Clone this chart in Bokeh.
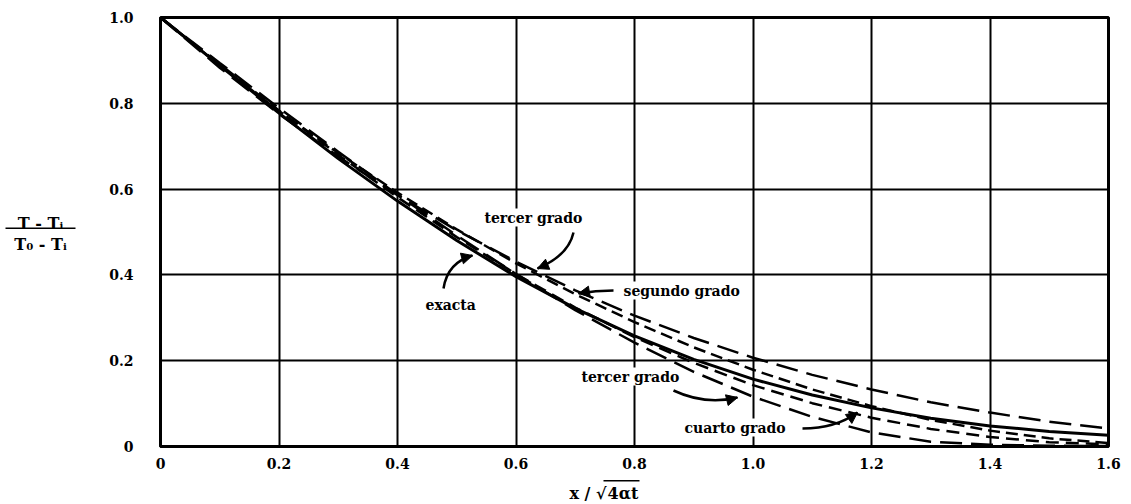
from bokeh.plotting import figure
from bokeh.layouts import row, column
from bokeh.models import Label, Arrow, NormalHead, Range1d, FixedTicker
from bokeh.core.properties import value
from bokeh.embed import file_html
from bokeh.resources import INLINE

# ---- data ----
eta = [0.0, 0.1, 0.2, 0.3, 0.4, 0.5, 0.6, 0.7, 0.8, 0.9, 1.0, 1.1, 1.2, 1.3, 1.4, 1.5, 1.6]
exacta = [1.000, 0.888, 0.777, 0.671, 0.572, 0.480, 0.396, 0.322, 0.258, 0.203, 0.157, 0.120, 0.090, 0.066, 0.048, 0.035, 0.026]
segundo = [1.000, 0.888, 0.782, 0.684, 0.592, 0.506, 0.427, 0.355, 0.290, 0.231, 0.179, 0.133, 0.094, 0.062, 0.037, 0.019, 0.008]
tercer_sup = [1.000, 0.883, 0.775, 0.676, 0.586, 0.504, 0.431, 0.364, 0.305, 0.253, 0.207, 0.167, 0.133, 0.103, 0.079, 0.058, 0.042]
tercer_inf = [1.000, 0.894, 0.789, 0.687, 0.587, 0.492, 0.402, 0.318, 0.242, 0.174, 0.116, 0.069, 0.033, 0.011, 0.004, 0.002, 0.001]
cuarto = [1.000, 0.891, 0.783, 0.680, 0.581, 0.488, 0.402, 0.324, 0.255, 0.195, 0.143, 0.101, 0.067, 0.041, 0.022, 0.010, 0.005]

x_ticks = [0.0, 0.2, 0.4, 0.6, 0.8, 1.0, 1.2, 1.4, 1.6]
x_tick_labels = ["0", "0.2", "0.4", "0.6", "0.8", "1.0", "1.2", "1.4", "1.6"]
y_ticks = [0.0, 0.2, 0.4, 0.6, 0.8, 1.0]
y_tick_labels = ["0", "0.2", "0.4", "0.6", "0.8", "1.0"]

SERIF = "DejaVu Serif"

# page-pixel geometry of the plotting frame
FX0, FY0 = 160, 17
FW, FH = 948, 429
LEFT_W = 100          # width of the left text panel
MAIN_H = 472          # height of the row (main figure)
BOT_H = 32            # height of the bottom text panel
TOTAL_W = FX0 + FW + 15

# ---------------- main figure ----------------
p = figure(width=TOTAL_W - LEFT_W, height=MAIN_H, output_backend="svg", toolbar_location=None,
           x_range=Range1d(0, 1.6), y_range=Range1d(0, 1.0),
           min_border_left=FX0 - LEFT_W, min_border_right=15, min_border_top=FY0,
           min_border_bottom=MAIN_H - FY0 - FH)
p.background_fill_color = "white"
p.border_fill_color = "white"
p.outline_line_color = "black"
p.outline_line_width = 3

for ax, ticks, labels in ((p.xaxis, x_ticks, x_tick_labels), (p.yaxis, y_ticks, y_tick_labels)):
    ax.ticker = FixedTicker(ticks=ticks)
    ax.major_label_overrides = {t: l for t, l in zip(ticks, labels)}
    ax.major_tick_in = 0
    ax.major_tick_out = 0
    ax.minor_tick_in = 0
    ax.minor_tick_out = 0
    ax.axis_line_color = "black"
    ax.axis_line_width = 3
    ax.major_label_text_font = SERIF
    ax.major_label_text_font_style = "bold"
    ax.major_label_text_font_size = "14px"
    ax.major_label_text_color = "black"
p.yaxis.major_label_standoff = 27
p.xaxis.major_label_standoff = 11

p.grid.grid_line_color = "black"
p.grid.grid_line_width = 2
p.grid.grid_line_alpha = 1.0

# curves
p.line(eta, exacta, line_color="black", line_width=3)
p.line(eta, segundo, line_color="black", line_width=2.5, line_dash="12 6")
p.line(eta, tercer_sup, line_color="black", line_width=2.5, line_dash="22 9")
p.line(eta, tercer_inf, line_color="black", line_width=2.5, line_dash="22 9")
p.line(eta, cuarto, line_color="black", line_width=2.5, line_dash="13 7")


def dx(px):
    return (px - FX0) / (FW / 1.6)


def dy(py):
    return (FY0 + FH - py) / FH


# curved annotation arrows (page-pixel positions)
arrows = [
    ((573, 232), (568, 255), (537, 268)),
    ((613, 290), (595, 290), (578, 293)),
    ((443, 288), (447, 262), (472, 255)),
    ((673, 390), (705, 405), (737, 397)),
    ((802, 428), (835, 428), (857, 412)),
]
for (s, c, e) in arrows:
    p.quadratic(x0=dx(s[0]), y0=dy(s[1]), x1=dx(e[0]), y1=dy(e[1]),
                cx=dx(c[0]), cy=dy(c[1]), line_color="black", line_width=2.5)
    sx = e[0] - 0.25 * (e[0] - c[0])
    sy = e[1] - 0.25 * (e[1] - c[1])
    p.add_layout(Arrow(end=NormalHead(size=11, fill_color="black", line_color="black", line_width=1),
                       x_start=dx(sx), y_start=dy(sy), x_end=dx(e[0]), y_end=dy(e[1]),
                       line_color="black", line_width=2))

curve_labels = [
    ("tercer grado", 483, 217),
    ("segundo grado", 622, 290),
    ("exacta", 424, 304),
    ("tercer grado", 580, 376),
    ("cuarto grado", 683, 427),
]
for txt, lx, ly in curve_labels:
    p.add_layout(Label(x=dx(lx), y=dy(ly), text=txt, text_align="left", text_baseline="middle",
                       text_font=SERIF, text_font_style="bold", text_font_size="14px",
                       text_color="black", background_fill_color="white", padding=1))

# ---------------- left panel: y label as a fraction ----------------
pl = figure(width=LEFT_W, height=MAIN_H, output_backend="svg", toolbar_location=None,
            x_range=Range1d(0, LEFT_W), y_range=Range1d(MAIN_H, 0),
            x_axis_type=None, y_axis_type=None, min_border=0)
pl.outline_line_color = None
pl.grid.visible = False
pl.text(x=[40, 40], y=[227, 250], text=["T - Tᵢ", "T₀ - Tᵢ"], text_align="center",
        text_baseline="alphabetic", text_font=value(SERIF), text_font_style="bold",
        text_font_size="16px", text_color="black")
pl.segment(x0=[5], y0=[232], x1=[75], y1=[232], line_color="black", line_width=1.5)

# ---------------- bottom panel: x label ----------------
pb = figure(width=TOTAL_W, height=BOT_H, output_backend="svg", toolbar_location=None,
            x_range=Range1d(0, TOTAL_W), y_range=Range1d(BOT_H, 0),
            x_axis_type=None, y_axis_type=None, min_border=0)
pb.outline_line_color = None
pb.grid.visible = False
pb.text(x=[606], y=[21], text=["x / √"], text_align="right", text_baseline="alphabetic",
        text_font=value(SERIF), text_font_style="bold", text_font_size="16px", text_color="black")
pb.text(x=[607], y=[21], text=["4αt"], text_align="left", text_baseline="alphabetic",
        text_font=value(SERIF), text_font_style="bold", text_font_size="16px", text_color="black")
pb.segment(x0=[603], y0=[8.3], x1=[639], y1=[8.3], line_color="black", line_width=1.5)

layout = column(row(pl, p, spacing=0), pb, spacing=0)
open("out.html", "w").write(file_html(layout, INLINE))
